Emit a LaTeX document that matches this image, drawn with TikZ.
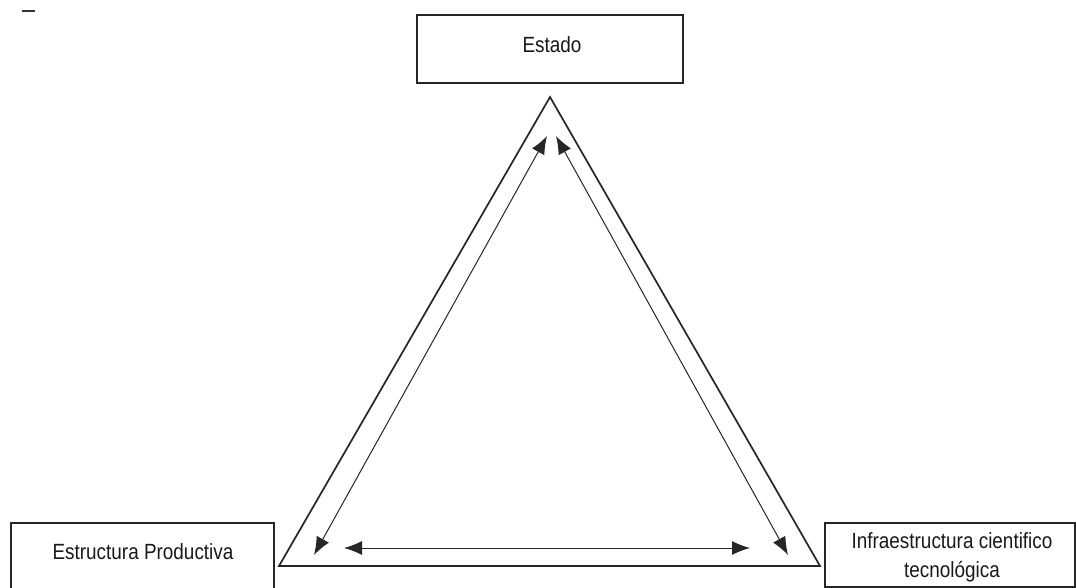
\documentclass[tikz,border=0pt]{standalone}
\usepackage{fontspec}
\setmainfont{Liberation Sans}[FakeStretch=0.86]
\usetikzlibrary{arrows.meta}
\begin{document}
\begin{tikzpicture}[x=1pt,y=-1pt,
  boxline/.style={draw=black!85, line width=1.4pt},
  label/.style={font=\fontsize{22}{29}\selectfont, text=black!90, inner sep=0pt, align=center},
  tri/.style={draw=black!85, line width=1.7pt, line join=miter},
  link/.style={draw=black!85, line width=1pt, {Latex[length=18pt,width=14pt]}-{Latex[length=18pt,width=14pt]}}]
\useasboundingbox (0,0) rectangle (1076,588);
\clip (0,0) rectangle (1076,588);
% small mark top-left
\draw[line width=2.5pt, black!80] (22,11) -- (35,11);
% boxes
\draw[boxline] (417,15) rectangle (683,83);
\node[label] (estado) at (552,45) {Estado};
\draw[boxline] (11,600) |- (274,523) -- (274,600);
\node[label] (ep) at (143,552) {Estructura Productiva};
\draw[boxline] (825,587) rectangle (1075,523);
\node[label] (ict) at (952,557) {Infraestructura cientifico\\tecnológica};
% triangle
\coordinate (A) at (550,97);
\coordinate (B) at (279,566);
\coordinate (C) at (820,566);
\draw[tri] (A) -- (B) -- (C) -- cycle;
% inner arrows
\coordinate (a1) at (547,136);
\coordinate (b1) at (314,555);
\coordinate (a2) at (556,136);
\coordinate (c2) at (788,555);
\coordinate (b3) at (344,548);
\coordinate (c3) at (750,548);
\draw[link] (a1) -- (b1);
\draw[link] (a2) -- (c2);
\draw[link] (b3) -- (c3);
\end{tikzpicture}
\end{document}
